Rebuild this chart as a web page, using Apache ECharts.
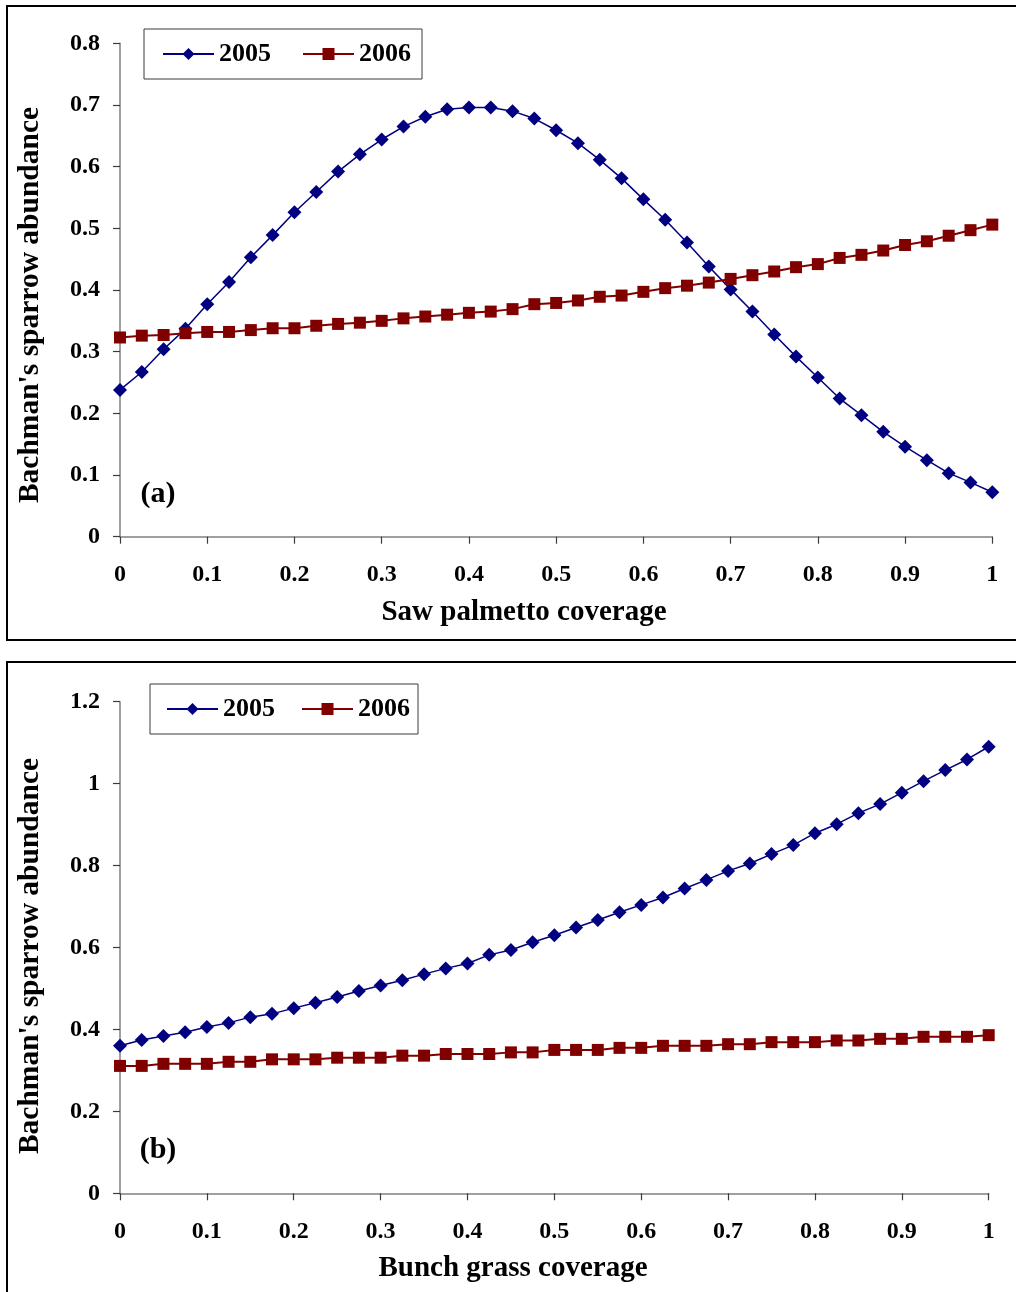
<!DOCTYPE html>
<html>
<head>
<meta charset="utf-8">
<style>
  html, body { margin: 0; padding: 0; background: #fff; }
  #main { width: 1016px; height: 1292px; }
</style>
<script src="https://cdn.jsdelivr.net/npm/echarts@6/dist/echarts.min.js"></script>
</head>
<body>
<div id="main"></div>
<script>
// coverage values on the x axis (shared by both panels)
const coverage = [0, 0.025, 0.05, 0.075, 0.1, 0.125, 0.15, 0.175, 0.2, 0.225,
  0.25, 0.275, 0.3, 0.325, 0.35, 0.375, 0.4, 0.425, 0.45, 0.475,
  0.5, 0.525, 0.55, 0.575, 0.6, 0.625, 0.65, 0.675, 0.7, 0.725,
  0.75, 0.775, 0.8, 0.825, 0.85, 0.875, 0.9, 0.925, 0.95, 0.975, 1];

// (a) saw palmetto
const saw2005 = [0.238, 0.267, 0.304, 0.337, 0.377, 0.413, 0.453, 0.489, 0.526, 0.559,
  0.592, 0.620, 0.644, 0.665, 0.681, 0.693, 0.696, 0.696, 0.690, 0.678,
  0.659, 0.638, 0.611, 0.581, 0.547, 0.514, 0.477, 0.438, 0.401, 0.365,
  0.328, 0.292, 0.258, 0.224, 0.197, 0.170, 0.146, 0.124, 0.103, 0.088, 0.072];
const saw2006 = [0.323, 0.326, 0.327, 0.330, 0.332, 0.332, 0.335, 0.338, 0.338, 0.342,
  0.345, 0.347, 0.350, 0.354, 0.357, 0.360, 0.363, 0.365, 0.369, 0.377,
  0.379, 0.383, 0.389, 0.391, 0.397, 0.403, 0.407, 0.412, 0.418, 0.424,
  0.430, 0.437, 0.442, 0.452, 0.457, 0.464, 0.473, 0.479, 0.488, 0.497, 0.506];

// (b) bunch grass
const grass2005 = [0.360, 0.374, 0.384, 0.393, 0.406, 0.416, 0.430, 0.438, 0.452, 0.465,
  0.479, 0.494, 0.507, 0.520, 0.535, 0.549, 0.561, 0.582, 0.594, 0.613,
  0.630, 0.649, 0.667, 0.686, 0.704, 0.722, 0.744, 0.765, 0.787, 0.805,
  0.828, 0.850, 0.879, 0.901, 0.928, 0.950, 0.978, 1.006, 1.033, 1.059, 1.090];
const grass2006 = [0.311, 0.311, 0.316, 0.316, 0.316, 0.321, 0.321, 0.327, 0.327, 0.327,
  0.331, 0.331, 0.331, 0.336, 0.336, 0.340, 0.340, 0.340, 0.344, 0.344,
  0.350, 0.350, 0.350, 0.355, 0.355, 0.360, 0.360, 0.360, 0.364, 0.364,
  0.369, 0.369, 0.369, 0.373, 0.373, 0.377, 0.377, 0.382, 0.382, 0.382, 0.386];

const years = ['2005', '2006'];
const yTitle = "Bachman's sparrow abundance";
const xTitles = ['Saw palmetto coverage', 'Bunch grass coverage'];
const panelTags = ['(a)', '(b)'];

const FONT = 'Liberation Serif';
const BLUE = '#000080';
const RED = '#800000';
const AXIS_GRAY = '#808080';
const TICK_GRAY = '#3c3c3c';

const pairs = (ys) => coverage.map((x, i) => [x, ys[i]]);

function xAxisOf(gridIndex) {
  return {
    gridIndex: gridIndex,
    type: 'value',
    min: 0, max: 1, interval: 0.1,
    axisLine: { lineStyle: { color: AXIS_GRAY, width: 1.5 } },
    axisTick: { length: 7, lineStyle: { color: TICK_GRAY, width: 1.2 } },
    axisLabel: { margin: 26, color: '#000', fontFamily: FONT, fontWeight: 'bold', fontSize: 24 },
    splitLine: { show: false }
  };
}

function yAxisOf(gridIndex, max, interval) {
  return {
    gridIndex: gridIndex,
    type: 'value',
    min: 0, max: max, interval: interval,
    axisLine: { show: true, lineStyle: { color: AXIS_GRAY, width: 1.5 } },
    axisTick: { show: true, length: 7, lineStyle: { color: TICK_GRAY, width: 1.2 } },
    axisLabel: { margin: 20, color: '#000', fontFamily: FONT, fontWeight: 'bold', fontSize: 24 },
    splitLine: { show: false }
  };
}

function seriesOf(name, idx, ys) {
  const isBlue = name === '2005';
  return {
    name: name,
    type: 'line',
    xAxisIndex: idx,
    yAxisIndex: idx,
    data: pairs(ys),
    symbol: isBlue ? 'diamond' : 'rect',
    symbolSize: isBlue ? 14 : 12,
    showAllSymbol: true,
    color: isBlue ? BLUE : RED,
    itemStyle: { color: isBlue ? BLUE : RED, borderWidth: 0 },
    lineStyle: { color: isBlue ? BLUE : RED, width: isBlue ? 1.5 : 2 },
    emphasis: { disabled: true }
  };
}

function legendOf(left, top, padding, gap) {
  return {
    left: left, top: top,
    orient: 'horizontal',
    data: years,
    itemWidth: 51,
    itemHeight: 15,
    itemGap: gap,
    padding: padding,
    borderColor: '#3a3a3a',
    borderWidth: 1,
    textStyle: { color: '#000', fontFamily: FONT, fontWeight: 'bold', fontSize: 26 }
  };
}

function label(text, x, y, size, opts) {
  return Object.assign({
    type: 'text',
    x: x, y: y,
    style: {
      text: text,
      fill: '#000',
      font: 'bold ' + size + 'px "' + FONT + '"',
      textAlign: 'center',
      textVerticalAlign: 'middle'
    },
    silent: true
  }, opts || {});
}

const chart = echarts.init(document.getElementById('main'), null, { renderer: 'canvas' });

const option = {
  backgroundColor: '#ffffff',
  animation: false,
  grid: [
    { left: 120, top: 43.3, width: 872.3, height: 493.4 },
    { left: 120, top: 701.7, width: 868.7, height: 491.6 }
  ],
  xAxis: [xAxisOf(0), xAxisOf(1)],
  yAxis: [yAxisOf(0, 0.8, 0.1), yAxisOf(1, 1.2, 0.2)],
  legend: [
    legendOf(144, 29, [12, 11, 12, 18], 31),
    legendOf(150, 684, [12, 8, 12, 16], 26)
  ],
  series: [
    seriesOf(years[0], 0, saw2005),
    seriesOf(years[1], 0, saw2006),
    seriesOf(years[0], 1, grass2005),
    seriesOf(years[1], 1, grass2006)
  ],
  graphic: [
    // panel frames
    { type: 'rect', shape: { x: 7, y: 6, width: 1015, height: 634 },
      style: { fill: 'none', stroke: '#000', lineWidth: 2 }, silent: true },
    { type: 'rect', shape: { x: 7, y: 662, width: 1015, height: 660 },
      style: { fill: 'none', stroke: '#000', lineWidth: 2 }, silent: true },
    // axis titles
    label(xTitles[0], 524, 613, 29),
    label(xTitles[1], 513, 1269, 29),
    label(yTitle, 30, 305, 29.5, { rotation: Math.PI / 2 }),
    label(yTitle, 30, 956, 29.5, { rotation: Math.PI / 2 }),
    // panel tags
    label(panelTags[0], 158, 494, 30),
    label(panelTags[1], 158, 1150, 30)
  ]
};

chart.setOption(option);
</script>
</body>
</html>
